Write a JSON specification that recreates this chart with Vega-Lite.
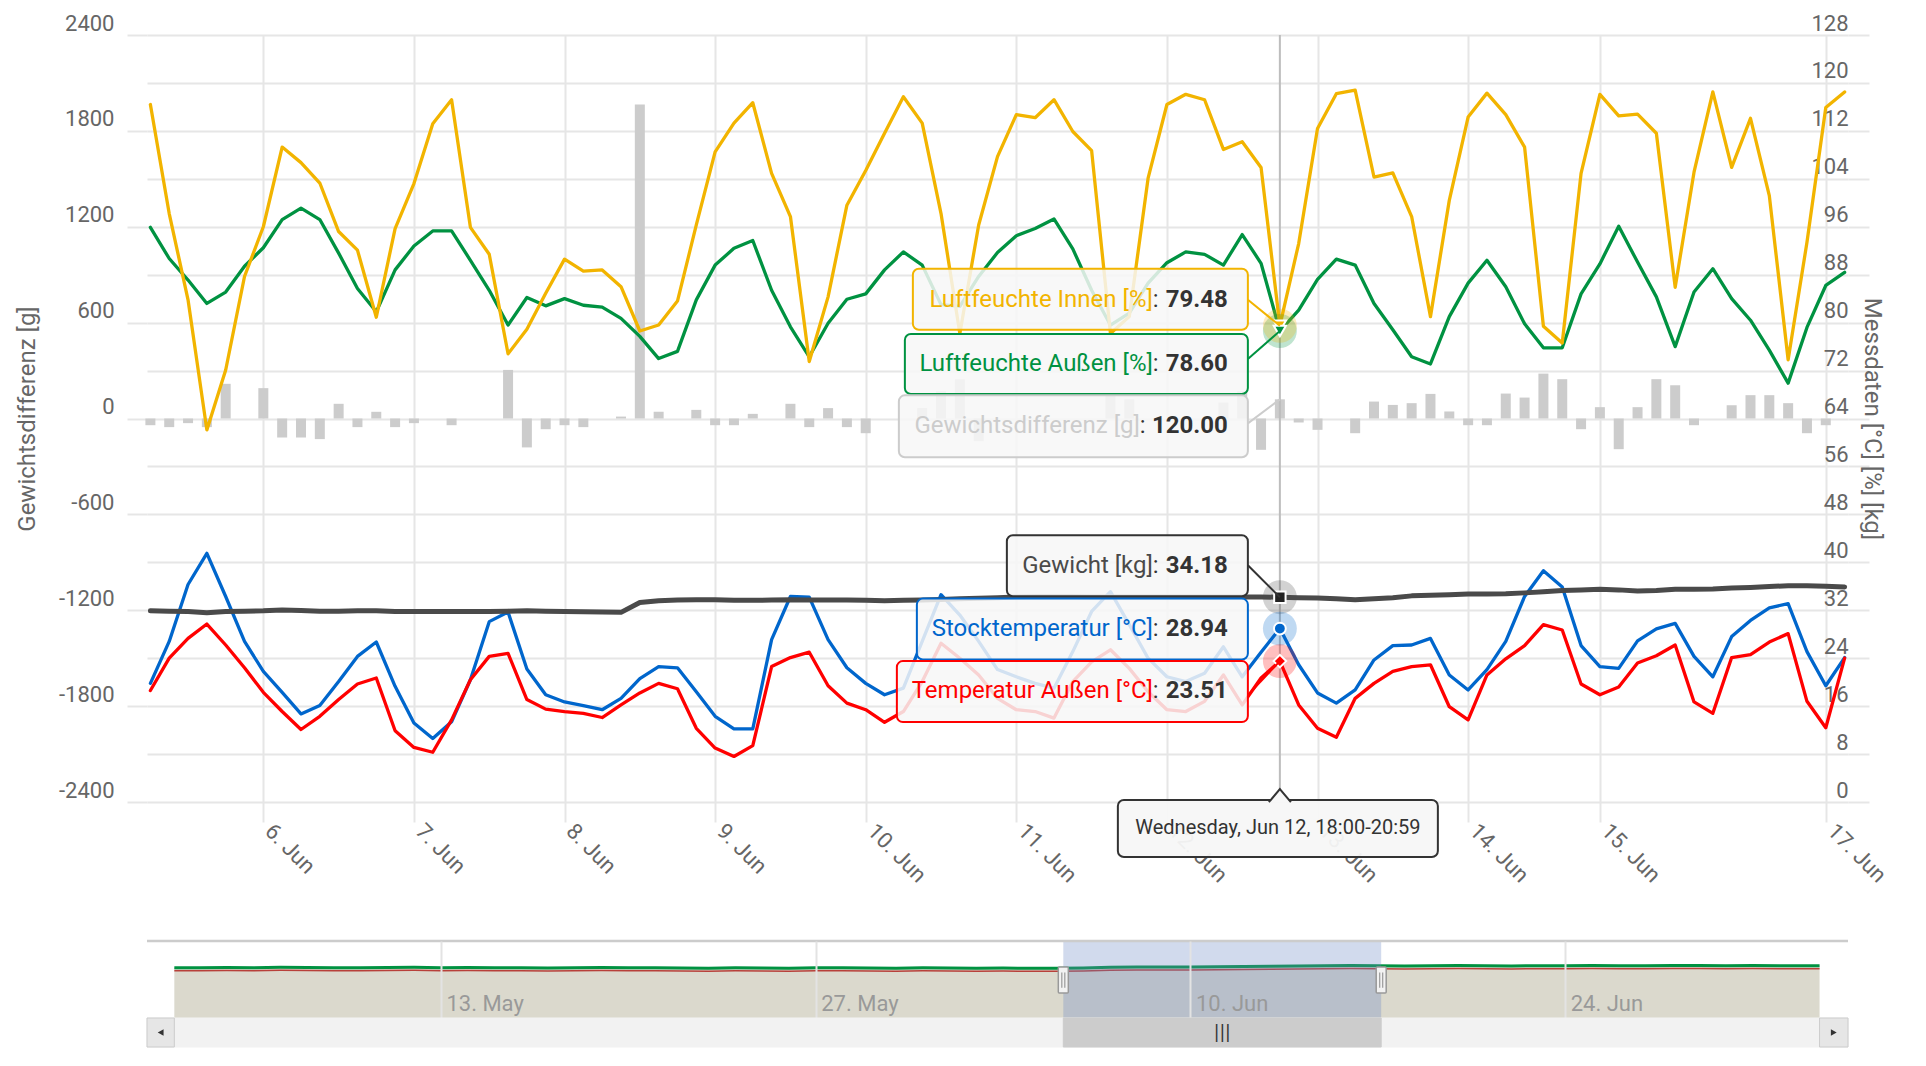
{
"$schema":"https://vega.github.io/schema/vega-lite/v6.json",
"padding":{"left":15,"top":12,"right":5,"bottom":5},
"background":"white",
"bounds":"flush",
"spacing":139,
"config":{"font":"Roboto","view":{"stroke":null},"axis":{"labelFont":"Roboto","titleFont":"Roboto"}},
"datasets":{
"main":[
{"t":"2019-06-05T06:00:00","li":116.4,"la":95.9,"gd":-42,"kg":31.9,"st":19.8,"ta":18.6},
{"t":"2019-06-05T09:00:00","li":98.2,"la":90.7,"gd":-54,"kg":31.85,"st":26.8,"ta":24.0},
{"t":"2019-06-05T12:00:00","li":83.8,"la":87.1,"gd":-29,"kg":31.8,"st":36.3,"ta":27.3},
{"t":"2019-06-05T15:00:00","li":62.1,"la":83.2,"gd":-54,"kg":31.6,"st":41.5,"ta":29.7},
{"t":"2019-06-05T18:00:00","li":72.1,"la":85.1,"gd":217,"kg":31.8,"st":34.3,"ta":26.2},
{"t":"2019-06-05T21:00:00","li":87.7,"la":89.4,"gd":0,"kg":31.85,"st":26.8,"ta":22.4},
{"t":"2019-06-06T00:00:00","li":96.0,"la":92.5,"gd":190,"kg":31.9,"st":21.8,"ta":18.3},
{"t":"2019-06-06T03:00:00","li":109.3,"la":97.2,"gd":-119,"kg":32.05,"st":18.3,"ta":15.1},
{"t":"2019-06-06T06:00:00","li":106.7,"la":99.1,"gd":-119,"kg":31.95,"st":14.7,"ta":12.1},
{"t":"2019-06-06T09:00:00","li":103.3,"la":97.2,"gd":-129,"kg":31.85,"st":16.1,"ta":14.3},
{"t":"2019-06-06T12:00:00","li":95.2,"la":91.6,"gd":92,"kg":31.85,"st":20.1,"ta":17.1},
{"t":"2019-06-06T15:00:00","li":92.1,"la":85.7,"gd":-54,"kg":31.9,"st":24.3,"ta":19.7},
{"t":"2019-06-06T18:00:00","li":80.9,"la":81.8,"gd":42,"kg":31.9,"st":26.7,"ta":20.7},
{"t":"2019-06-06T21:00:00","li":95.7,"la":88.8,"gd":-54,"kg":31.8,"st":19.3,"ta":11.9},
{"t":"2019-06-07T00:00:00","li":103.2,"la":92.8,"gd":-29,"kg":31.8,"st":13.2,"ta":9.1},
{"t":"2019-06-07T03:00:00","li":113.2,"la":95.3,"gd":0,"kg":31.8,"st":10.6,"ta":8.3},
{"t":"2019-06-07T06:00:00","li":117.2,"la":95.3,"gd":-42,"kg":31.8,"st":13.4,"ta":13.7},
{"t":"2019-06-07T09:00:00","li":95.9,"la":90.4,"gd":0,"kg":31.8,"st":20.4,"ta":20.4},
{"t":"2019-06-07T12:00:00","li":91.4,"la":85.4,"gd":0,"kg":31.8,"st":30.1,"ta":24.3},
{"t":"2019-06-07T15:00:00","li":74.8,"la":79.6,"gd":304,"kg":31.85,"st":31.7,"ta":24.8},
{"t":"2019-06-07T18:00:00","li":78.9,"la":84.2,"gd":-181,"kg":31.9,"st":22.2,"ta":17.1},
{"t":"2019-06-07T21:00:00","li":84.9,"la":82.8,"gd":-67,"kg":31.85,"st":17.9,"ta":15.5},
{"t":"2019-06-08T00:00:00","li":90.6,"la":84.0,"gd":-42,"kg":31.8,"st":16.7,"ta":15.1},
{"t":"2019-06-08T03:00:00","li":88.6,"la":82.9,"gd":-54,"kg":31.75,"st":16.1,"ta":14.8},
{"t":"2019-06-08T06:00:00","li":88.8,"la":82.6,"gd":0,"kg":31.7,"st":15.4,"ta":14.1},
{"t":"2019-06-08T09:00:00","li":86.0,"la":80.7,"gd":12,"kg":31.65,"st":17.3,"ta":16.2},
{"t":"2019-06-08T12:00:00","li":78.6,"la":77.7,"gd":1965,"kg":33.3,"st":20.6,"ta":18.2},
{"t":"2019-06-08T15:00:00","li":79.6,"la":74.0,"gd":42,"kg":33.6,"st":22.6,"ta":19.8},
{"t":"2019-06-08T18:00:00","li":83.6,"la":75.2,"gd":0,"kg":33.7,"st":22.4,"ta":18.9},
{"t":"2019-06-08T21:00:00","li":96.3,"la":83.8,"gd":54,"kg":33.75,"st":18.4,"ta":12.3},
{"t":"2019-06-09T00:00:00","li":108.5,"la":89.6,"gd":-42,"kg":33.75,"st":14.3,"ta":9.0},
{"t":"2019-06-09T03:00:00","li":113.3,"la":92.4,"gd":-42,"kg":33.65,"st":12.2,"ta":7.6},
{"t":"2019-06-09T06:00:00","li":116.7,"la":93.7,"gd":29,"kg":33.65,"st":12.2,"ta":9.4},
{"t":"2019-06-09T09:00:00","li":104.9,"la":85.4,"gd":0,"kg":33.7,"st":27.1,"ta":22.6},
{"t":"2019-06-09T12:00:00","li":97.7,"la":79.3,"gd":92,"kg":33.75,"st":34.3,"ta":24.1},
{"t":"2019-06-09T15:00:00","li":73.5,"la":74.3,"gd":-54,"kg":33.7,"st":34.2,"ta":25.0},
{"t":"2019-06-09T18:00:00","li":84.3,"la":79.9,"gd":65,"kg":33.7,"st":27.1,"ta":19.4},
{"t":"2019-06-09T21:00:00","li":99.6,"la":83.9,"gd":-54,"kg":33.7,"st":22.4,"ta":16.5},
{"t":"2019-06-10T00:00:00","li":105.4,"la":84.8,"gd":-92,"kg":33.65,"st":19.8,"ta":15.4},
{"t":"2019-06-10T03:00:00","li":111.6,"la":88.8,"gd":0,"kg":33.6,"st":17.9,"ta":13.3},
{"t":"2019-06-10T06:00:00","li":117.7,"la":91.8,"gd":0,"kg":33.65,"st":19.0,"ta":15.1},
{"t":"2019-06-10T09:00:00","li":113.3,"la":89.6,"gd":65,"kg":33.7,"st":26.8,"ta":20.1},
{"t":"2019-06-10T12:00:00","li":98.2,"la":83.0,"gd":170,"kg":33.8,"st":34.6,"ta":26.5},
{"t":"2019-06-10T15:00:00","li":78.2,"la":82.7,"gd":245,"kg":33.9,"st":31.2,"ta":24.0},
{"t":"2019-06-10T18:00:00","li":96.3,"la":87.7,"gd":-142,"kg":34.0,"st":26.8,"ta":21.2},
{"t":"2019-06-10T21:00:00","li":107.7,"la":91.7,"gd":0,"kg":34.1,"st":22.1,"ta":17.3},
{"t":"2019-06-11T00:00:00","li":114.7,"la":94.5,"gd":0,"kg":34.2,"st":20.9,"ta":15.4},
{"t":"2019-06-11T03:00:00","li":114.2,"la":95.7,"gd":0,"kg":34.25,"st":19.8,"ta":15.1},
{"t":"2019-06-11T06:00:00","li":117.2,"la":97.3,"gd":0,"kg":34.25,"st":19.0,"ta":14.0},
{"t":"2019-06-11T09:00:00","li":111.9,"la":92.3,"gd":0,"kg":34.25,"st":25.1,"ta":20.1},
{"t":"2019-06-11T12:00:00","li":108.7,"la":85.4,"gd":0,"kg":34.2,"st":31.8,"ta":23.4},
{"t":"2019-06-11T15:00:00","li":78.2,"la":79.6,"gd":150,"kg":34.2,"st":35.1,"ta":25.4},
{"t":"2019-06-11T18:00:00","li":81.0,"la":81.6,"gd":120,"kg":34.2,"st":29.6,"ta":22.3},
{"t":"2019-06-11T21:00:00","li":104.1,"la":86.6,"gd":0,"kg":34.2,"st":24.0,"ta":18.4},
{"t":"2019-06-12T00:00:00","li":116.4,"la":90.0,"gd":0,"kg":34.2,"st":20.9,"ta":15.4},
{"t":"2019-06-12T03:00:00","li":118.1,"la":91.8,"gd":0,"kg":34.2,"st":20.1,"ta":15.1},
{"t":"2019-06-12T06:00:00","li":117.2,"la":91.4,"gd":0,"kg":34.2,"st":21.5,"ta":16.8},
{"t":"2019-06-12T09:00:00","li":108.9,"la":89.6,"gd":100,"kg":34.2,"st":25.9,"ta":21.2},
{"t":"2019-06-12T12:00:00","li":110.2,"la":94.7,"gd":170,"kg":34.2,"st":20.9,"ta":16.2},
{"t":"2019-06-12T15:00:00","li":105.9,"la":89.9,"gd":-196,"kg":34.2,"st":25.0,"ta":20.7},
{"t":"2019-06-12T18:00:00","li":79.48,"la":78.60,"gd":120,"kg":34.18,"st":28.94,"ta":23.51},
{"t":"2019-06-12T21:00:00","li":93.2,"la":82.1,"gd":-25,"kg":34.1,"st":22.9,"ta":16.2},
{"t":"2019-06-13T00:00:00","li":112.4,"la":87.2,"gd":-71,"kg":34.05,"st":18.2,"ta":12.3},
{"t":"2019-06-13T03:00:00","li":118.2,"la":90.6,"gd":0,"kg":33.9,"st":16.5,"ta":10.8},
{"t":"2019-06-13T06:00:00","li":118.8,"la":89.6,"gd":-92,"kg":33.75,"st":18.7,"ta":17.3},
{"t":"2019-06-13T09:00:00","li":104.3,"la":83.2,"gd":106,"kg":33.9,"st":23.7,"ta":19.8},
{"t":"2019-06-13T12:00:00","li":105.0,"la":78.8,"gd":85,"kg":34.1,"st":26.1,"ta":21.8},
{"t":"2019-06-13T15:00:00","li":97.7,"la":74.3,"gd":96,"kg":34.4,"st":26.2,"ta":22.6},
{"t":"2019-06-13T18:00:00","li":81.0,"la":73.1,"gd":154,"kg":34.5,"st":27.3,"ta":22.9},
{"t":"2019-06-13T21:00:00","li":100.4,"la":81.0,"gd":44,"kg":34.6,"st":21.2,"ta":15.9},
{"t":"2019-06-14T00:00:00","li":114.3,"la":86.6,"gd":-42,"kg":34.7,"st":18.7,"ta":13.7},
{"t":"2019-06-14T03:00:00","li":118.3,"la":90.4,"gd":-42,"kg":34.7,"st":22.1,"ta":21.2},
{"t":"2019-06-14T06:00:00","li":114.7,"la":86.0,"gd":156,"kg":34.75,"st":26.8,"ta":23.9},
{"t":"2019-06-14T09:00:00","li":109.3,"la":79.8,"gd":131,"kg":34.9,"st":34.3,"ta":26.1},
{"t":"2019-06-14T12:00:00","li":79.4,"la":75.8,"gd":281,"kg":35.1,"st":38.6,"ta":29.6},
{"t":"2019-06-14T15:00:00","li":76.6,"la":75.8,"gd":246,"kg":35.3,"st":35.9,"ta":28.7},
{"t":"2019-06-14T18:00:00","li":104.9,"la":84.8,"gd":-67,"kg":35.4,"st":26.1,"ta":19.7},
{"t":"2019-06-15T00:00:00","li":118.1,"la":89.8,"gd":71,"kg":35.5,"st":22.6,"ta":17.9},
{"t":"2019-06-15T03:00:00","li":114.5,"la":96.1,"gd":-192,"kg":35.4,"st":22.3,"ta":19.2},
{"t":"2019-06-15T06:00:00","li":114.8,"la":90.1,"gd":71,"kg":35.2,"st":26.9,"ta":23.2},
{"t":"2019-06-15T09:00:00","li":111.6,"la":84.3,"gd":246,"kg":35.3,"st":28.9,"ta":24.4},
{"t":"2019-06-15T12:00:00","li":85.9,"la":76.0,"gd":208,"kg":35.5,"st":29.8,"ta":26.2},
{"t":"2019-06-15T18:00:00","li":105.1,"la":85.1,"gd":-42,"kg":35.5,"st":24.3,"ta":16.7},
{"t":"2019-06-16T03:00:00","li":118.5,"la":89.0,"gd":0,"kg":35.55,"st":20.9,"ta":14.8},
{"t":"2019-06-16T09:00:00","li":105.9,"la":84.0,"gd":83,"kg":35.7,"st":27.6,"ta":24.1},
{"t":"2019-06-16T12:00:00","li":114.1,"la":80.4,"gd":146,"kg":35.8,"st":30.3,"ta":24.6},
{"t":"2019-06-16T15:00:00","li":101.2,"la":75.4,"gd":146,"kg":35.95,"st":32.4,"ta":26.7},
{"t":"2019-06-16T18:00:00","li":73.8,"la":69.9,"gd":96,"kg":36.1,"st":33.1,"ta":28.1},
{"t":"2019-06-16T21:00:00","li":93.4,"la":79.2,"gd":-92,"kg":36.1,"st":25.1,"ta":16.8},
{"t":"2019-06-17T00:00:00","li":115.9,"la":86.2,"gd":-42,"kg":36.0,"st":19.4,"ta":12.4},
{"t":"2019-06-17T03:00:00","li":118.5,"la":88.4,"gd":0,"kg":35.9,"st":24.1,"ta":24.0}
],
"nav":[
{"d":"2019-05-03T01:00:00","kg":33.2},{"d":"2019-05-04T00:00:00","kg":33.1},{"d":"2019-05-05T00:00:00","kg":33.3},{"d":"2019-05-06T00:00:00","kg":33.2},{"d":"2019-05-07T00:00:00","kg":33.4},{"d":"2019-05-08T00:00:00","kg":33.3},{"d":"2019-05-09T00:00:00","kg":33.2},{"d":"2019-05-10T00:00:00","kg":33.1},{"d":"2019-05-11T00:00:00","kg":33.3},{"d":"2019-05-12T00:00:00","kg":33.4},{"d":"2019-05-13T00:00:00","kg":33.2},{"d":"2019-05-14T00:00:00","kg":33.3},{"d":"2019-05-15T00:00:00","kg":33.1},{"d":"2019-05-16T00:00:00","kg":33.2},{"d":"2019-05-17T00:00:00","kg":33.0},{"d":"2019-05-18T00:00:00","kg":33.2},{"d":"2019-05-19T00:00:00","kg":33.3},{"d":"2019-05-20T00:00:00","kg":33.1},{"d":"2019-05-21T00:00:00","kg":33.2},{"d":"2019-05-22T00:00:00","kg":33.0},{"d":"2019-05-23T00:00:00","kg":32.9},{"d":"2019-05-24T00:00:00","kg":33.1},{"d":"2019-05-25T00:00:00","kg":33.0},{"d":"2019-05-26T00:00:00","kg":32.9},{"d":"2019-05-27T00:00:00","kg":33.1},{"d":"2019-05-28T00:00:00","kg":33.2},{"d":"2019-05-29T00:00:00","kg":33.0},{"d":"2019-05-30T00:00:00","kg":32.9},{"d":"2019-05-31T00:00:00","kg":33.1},
{"d":"2019-06-01T00:00:00","kg":33.0},{"d":"2019-06-02T00:00:00","kg":32.9},{"d":"2019-06-03T00:00:00","kg":33.0},{"d":"2019-06-04T00:00:00","kg":32.8},{"d":"2019-06-05T00:00:00","kg":32.9},{"d":"2019-06-06T00:00:00","kg":33.0},{"d":"2019-06-07T00:00:00","kg":33.4},{"d":"2019-06-08T00:00:00","kg":33.6},{"d":"2019-06-09T00:00:00","kg":33.6},{"d":"2019-06-10T00:00:00","kg":33.7},{"d":"2019-06-11T00:00:00","kg":33.8},{"d":"2019-06-12T00:00:00","kg":34.0},{"d":"2019-06-13T00:00:00","kg":34.2},{"d":"2019-06-14T00:00:00","kg":34.3},{"d":"2019-06-15T00:00:00","kg":34.5},{"d":"2019-06-16T00:00:00","kg":34.6},{"d":"2019-06-17T00:00:00","kg":34.4},{"d":"2019-06-18T00:00:00","kg":34.3},{"d":"2019-06-19T00:00:00","kg":34.5},{"d":"2019-06-20T00:00:00","kg":34.6},{"d":"2019-06-21T00:00:00","kg":34.4},{"d":"2019-06-22T00:00:00","kg":34.3},{"d":"2019-06-23T00:00:00","kg":34.5},{"d":"2019-06-24T00:00:00","kg":34.4},{"d":"2019-06-25T00:00:00","kg":34.6},{"d":"2019-06-26T00:00:00","kg":34.5},{"d":"2019-06-27T00:00:00","kg":34.4},{"d":"2019-06-28T00:00:00","kg":34.6},{"d":"2019-06-29T00:00:00","kg":34.7},{"d":"2019-06-30T00:00:00","kg":34.5},
{"d":"2019-07-01T00:00:00","kg":34.6},{"d":"2019-07-02T00:00:00","kg":34.4},{"d":"2019-07-03T00:00:00","kg":34.5},{"d":"2019-07-03T12:00:00","kg":34.5}
]
},
"vconcat":[
{
"width":1701,"height":767,
"data":{"name":"main"},
"encoding":{"x":{"field":"t","type":"ordinal","scale":{"type":"point","padding":0.18},
 "axis":{"values":["2019-06-06T00:00:00","2019-06-07T00:00:00","2019-06-08T00:00:00","2019-06-09T00:00:00","2019-06-10T00:00:00","2019-06-11T00:00:00","2019-06-12T00:00:00","2019-06-13T00:00:00","2019-06-14T00:00:00","2019-06-15T00:00:00","2019-06-17T00:00:00"],
 "labelExpr":"timeFormat(toDate(datum.value), '%-d. %b')","labelAngle":45,"labelAlign":"left","labelBaseline":"top","labelFontSize":22,"labelColor":"#666666","labelPadding":-2,"labelOffset":12,"labelOverlap":false,"labelFlush":false,
 "grid":true,"gridColor":"#e6e6e6","gridWidth":2,"ticks":true,"tickSize":20,"tickWidth":2,"tickColor":"#e6e6e6","domain":false,"title":null}}},
"resolve":{"scale":{"y":"independent"}},
"layer":[
{"mark":{"type":"bar","width":10,"color":"#cccccc"},
 "encoding":{"y":{"field":"gd","type":"quantitative","scale":{"domain":[-2400,2400],"nice":false,"zero":false},
  "axis":{"orient":"left","values":[-2400,-1800,-1200,-600,0,600,1200,1800,2400],"labelExpr":"'' + datum.value","title":"Gewichtsdifferenz [g]","titleFontSize":24,"titleFontWeight":"normal","titleColor":"#666666","titlePadding":19,"grid":false,"domain":false,"ticks":true,"tickSize":20,"tickWidth":2,"tickColor":"#e6e6e6","labelPadding":13,"labelFontSize":22,"labelColor":"#666666","labelBaseline":"bottom","labelOverlap":false,"labelFlush":false}},
  "y2":{"datum":0}}},
{"transform":[{"filter":"datum.t == '2019-06-12T18:00:00'"}],"mark":{"type":"rule","color":"#bdbdbd","strokeWidth":2},"encoding":{}},
{"mark":{"type":"line","color":"#0066cc","strokeWidth":3.3,"strokeJoin":"round","strokeCap":"round"},
 "encoding":{"y":{"field":"st","type":"quantitative","scale":{"domain":[0,128],"nice":false,"zero":false},
  "axis":{"orient":"right","values":[0,8,16,24,32,40,48,56,64,72,80,88,96,104,112,120,128],"title":"Messdaten [°C] [%] [kg]","titleFontSize":24,"titleFontWeight":"normal","titleColor":"#666666","titlePadding":-11,"grid":true,"gridColor":"#e6e6e6","gridWidth":2,"domain":false,"ticks":true,"tickSize":21,"tickWidth":2,"tickColor":"#e6e6e6","labelPadding":-21,"labelAlign":"right","labelFontSize":22,"labelColor":"#666666","labelBaseline":"bottom","labelOverlap":false,"labelFlush":false}}}},
{"mark":{"type":"line","color":"#ff0000","strokeWidth":3.3,"strokeJoin":"round","strokeCap":"round"},
 "encoding":{"y":{"field":"ta","type":"quantitative","scale":{"domain":[0,128],"nice":false,"zero":false},"axis":null}}},
{"mark":{"type":"line","color":"#4a4a4a","strokeWidth":5,"strokeJoin":"round","strokeCap":"round"},
 "encoding":{"y":{"field":"kg","type":"quantitative","scale":{"domain":[0,128],"nice":false,"zero":false},"axis":null}}},
{"mark":{"type":"line","color":"#009241","strokeWidth":3.3,"strokeJoin":"round","strokeCap":"round"},
 "encoding":{"y":{"field":"la","type":"quantitative","scale":{"domain":[0,128],"nice":false,"zero":false},"axis":null}}},
{"mark":{"type":"line","color":"#f2b400","strokeWidth":3.3,"strokeJoin":"round","strokeCap":"round"},
 "encoding":{"y":{"field":"li","type":"quantitative","scale":{"domain":[0,128],"nice":false,"zero":false},"axis":null}}},
{"transform":[{"filter":"datum.t == '2019-06-12T18:00:00'"}],
 "resolve":{"scale":{"y":"independent"}},
 "layer":[
 {"mark":{"type":"point","filled":true,"shape":"circle","size":1150,"color":"#4a4a4a","opacity":0.25},"encoding":{"y":{"field":"kg","type":"quantitative","scale":{"domain":[0,128],"nice":false,"zero":false},"axis":null}}},
 {"mark":{"type":"point","filled":true,"shape":"circle","size":1150,"color":"#0066cc","opacity":0.25},"encoding":{"y":{"field":"st","type":"quantitative","scale":{"domain":[0,128],"nice":false,"zero":false},"axis":null}}},
 {"mark":{"type":"point","filled":true,"shape":"circle","size":1150,"color":"#ff0000","opacity":0.25},"encoding":{"y":{"field":"ta","type":"quantitative","scale":{"domain":[0,128],"nice":false,"zero":false},"axis":null}}},
 {"mark":{"type":"point","filled":true,"shape":"circle","size":1150,"color":"#009241","opacity":0.25},"encoding":{"y":{"field":"la","type":"quantitative","scale":{"domain":[0,128],"nice":false,"zero":false},"axis":null}}},
 {"mark":{"type":"point","filled":true,"shape":"circle","size":1150,"color":"#f2b400","opacity":0.25},"encoding":{"y":{"field":"li","type":"quantitative","scale":{"domain":[0,128],"nice":false,"zero":false},"axis":null}}},
 {"mark":{"type":"point","filled":true,"shape":"square","size":130,"color":"#222222","stroke":"#ffffff","strokeWidth":2,"opacity":1},"encoding":{"y":{"field":"kg","type":"quantitative","scale":{"domain":[0,128],"nice":false,"zero":false},"axis":null}}},
 {"mark":{"type":"point","filled":true,"shape":"circle","size":140,"color":"#0066cc","stroke":"#ffffff","strokeWidth":2,"opacity":1},"encoding":{"y":{"field":"st","type":"quantitative","scale":{"domain":[0,128],"nice":false,"zero":false},"axis":null}}},
 {"mark":{"type":"point","filled":true,"shape":"diamond","size":160,"color":"#ff0000","stroke":"#ffffff","strokeWidth":2,"opacity":1},"encoding":{"y":{"field":"ta","type":"quantitative","scale":{"domain":[0,128],"nice":false,"zero":false},"axis":null}}},
 {"mark":{"type":"point","filled":true,"shape":"triangle-down","size":150,"color":"#f2b400","stroke":"#ffffff","strokeWidth":2,"opacity":1},"encoding":{"y":{"field":"li","type":"quantitative","scale":{"domain":[0,128],"nice":false,"zero":false},"axis":null}}},
 {"mark":{"type":"point","filled":true,"shape":"triangle-down","size":150,"color":"#009241","stroke":"#ffffff","strokeWidth":2,"opacity":1},"encoding":{"y":{"field":"la","type":"quantitative","scale":{"domain":[0,128],"nice":false,"zero":false},"axis":null}}},

 {"mark":{"type":"rule","color":"#f2b400","strokeWidth":2,"xOffset":-32,"x2Offset":0,"yOffset":-26,"y2Offset":0},"encoding":{"x2":{"field":"t"},"y":{"field":"li","type":"quantitative","scale":{"domain":[0,128],"nice":false,"zero":false},"axis":null},"y2":{"field":"li"}}},
 {"mark":{"type":"rect","fill":"#f7f7f7","fillOpacity":0.85,"stroke":"#f2b400","strokeWidth":2,"cornerRadius":6,"xOffset":-367,"x2Offset":-32,"yOffset":-57,"y2Offset":4},"encoding":{"x2":{"field":"t"},"y":{"field":"li","type":"quantitative","scale":{"domain":[0,128],"nice":false,"zero":false},"axis":null},"y2":{"field":"li"}}},
 {"mark":{"type":"text","text":"Luftfeuchte Innen [%]","align":"right","baseline":"middle","dx":-127,"dy":-26,"fontSize":24,"color":"#f2b400"},"encoding":{"y":{"field":"li","type":"quantitative","scale":{"domain":[0,128],"nice":false,"zero":false},"axis":null}}},
 {"mark":{"type":"text","text":":","align":"left","baseline":"middle","dx":-127,"dy":-26,"fontSize":24,"color":"#333333"},"encoding":{"y":{"field":"li","type":"quantitative","scale":{"domain":[0,128],"nice":false,"zero":false},"axis":null}}},
 {"mark":{"type":"text","align":"right","baseline":"middle","dx":-52,"dy":-26,"fontSize":24,"fontWeight":"bold","color":"#333333"},"encoding":{"y":{"field":"li","type":"quantitative","scale":{"domain":[0,128],"nice":false,"zero":false},"axis":null},"text":{"field":"li","type":"quantitative","format":".2f"}}},

 {"mark":{"type":"rule","color":"#009241","strokeWidth":2,"xOffset":-32,"x2Offset":0,"yOffset":28,"y2Offset":0},"encoding":{"x2":{"field":"t"},"y":{"field":"la","type":"quantitative","scale":{"domain":[0,128],"nice":false,"zero":false},"axis":null},"y2":{"field":"la"}}},
 {"mark":{"type":"rect","fill":"#f7f7f7","fillOpacity":0.85,"stroke":"#009241","strokeWidth":2,"cornerRadius":6,"xOffset":-375,"x2Offset":-32,"yOffset":3,"y2Offset":63},"encoding":{"x2":{"field":"t"},"y":{"field":"la","type":"quantitative","scale":{"domain":[0,128],"nice":false,"zero":false},"axis":null},"y2":{"field":"la"}}},
 {"mark":{"type":"text","text":"Luftfeuchte Außen [%]","align":"right","baseline":"middle","dx":-127,"dy":33,"fontSize":24,"color":"#009241"},"encoding":{"y":{"field":"la","type":"quantitative","scale":{"domain":[0,128],"nice":false,"zero":false},"axis":null}}},
 {"mark":{"type":"text","text":":","align":"left","baseline":"middle","dx":-127,"dy":33,"fontSize":24,"color":"#333333"},"encoding":{"y":{"field":"la","type":"quantitative","scale":{"domain":[0,128],"nice":false,"zero":false},"axis":null}}},
 {"mark":{"type":"text","align":"right","baseline":"middle","dx":-52,"dy":33,"fontSize":24,"fontWeight":"bold","color":"#333333"},"encoding":{"y":{"field":"la","type":"quantitative","scale":{"domain":[0,128],"nice":false,"zero":false},"axis":null},"text":{"field":"la","type":"quantitative","format":".2f"}}},

 {"mark":{"type":"rule","color":"#cccccc","strokeWidth":2,"xOffset":-32,"x2Offset":0,"yOffset":24,"y2Offset":0},"encoding":{"x2":{"field":"t"},"y":{"field":"gd","type":"quantitative","scale":{"domain":[-2400,2400],"nice":false,"zero":false},"axis":null},"y2":{"field":"gd"}}},
 {"mark":{"type":"rect","fill":"#f7f7f7","fillOpacity":0.85,"stroke":"#cccccc","strokeWidth":2,"cornerRadius":6,"xOffset":-381,"x2Offset":-32,"yOffset":-4,"y2Offset":58},"encoding":{"x2":{"field":"t"},"y":{"field":"gd","type":"quantitative","scale":{"domain":[-2400,2400],"nice":false,"zero":false},"axis":null},"y2":{"field":"gd"}}},
 {"mark":{"type":"text","text":"Gewichtsdifferenz [g]","align":"right","baseline":"middle","dx":-140,"dy":27,"fontSize":24,"color":"#cccccc"},"encoding":{"y":{"field":"gd","type":"quantitative","scale":{"domain":[-2400,2400],"nice":false,"zero":false},"axis":null}}},
 {"mark":{"type":"text","text":":","align":"left","baseline":"middle","dx":-140,"dy":27,"fontSize":24,"color":"#333333"},"encoding":{"y":{"field":"gd","type":"quantitative","scale":{"domain":[-2400,2400],"nice":false,"zero":false},"axis":null}}},
 {"mark":{"type":"text","align":"right","baseline":"middle","dx":-52,"dy":27,"fontSize":24,"fontWeight":"bold","color":"#333333"},"encoding":{"y":{"field":"gd","type":"quantitative","scale":{"domain":[-2400,2400],"nice":false,"zero":false},"axis":null},"text":{"field":"gd","type":"quantitative","format":".2f"}}},

 {"mark":{"type":"rule","color":"#333333","strokeWidth":2,"xOffset":-32,"x2Offset":0,"yOffset":-32,"y2Offset":0},"encoding":{"x2":{"field":"t"},"y":{"field":"kg","type":"quantitative","scale":{"domain":[0,128],"nice":false,"zero":false},"axis":null},"y2":{"field":"kg"}}},
 {"mark":{"type":"rect","fill":"#f7f7f7","fillOpacity":0.85,"stroke":"#333333","strokeWidth":2,"cornerRadius":6,"xOffset":-273,"x2Offset":-32,"yOffset":-62,"y2Offset":-1},"encoding":{"x2":{"field":"t"},"y":{"field":"kg","type":"quantitative","scale":{"domain":[0,128],"nice":false,"zero":false},"axis":null},"y2":{"field":"kg"}}},
 {"mark":{"type":"text","text":"Gewicht [kg]","align":"right","baseline":"middle","dx":-127,"dy":-31,"fontSize":24,"color":"#4a4a4a"},"encoding":{"y":{"field":"kg","type":"quantitative","scale":{"domain":[0,128],"nice":false,"zero":false},"axis":null}}},
 {"mark":{"type":"text","text":":","align":"left","baseline":"middle","dx":-127,"dy":-31,"fontSize":24,"color":"#333333"},"encoding":{"y":{"field":"kg","type":"quantitative","scale":{"domain":[0,128],"nice":false,"zero":false},"axis":null}}},
 {"mark":{"type":"text","align":"right","baseline":"middle","dx":-52,"dy":-31,"fontSize":24,"fontWeight":"bold","color":"#333333"},"encoding":{"y":{"field":"kg","type":"quantitative","scale":{"domain":[0,128],"nice":false,"zero":false},"axis":null},"text":{"field":"kg","type":"quantitative","format":".2f"}}},

 {"mark":{"type":"rect","fill":"#f7f7f7","fillOpacity":0.85,"stroke":"#0066cc","strokeWidth":2,"cornerRadius":6,"xOffset":-363,"x2Offset":-32,"yOffset":-30,"y2Offset":31},"encoding":{"x2":{"field":"t"},"y":{"field":"st","type":"quantitative","scale":{"domain":[0,128],"nice":false,"zero":false},"axis":null},"y2":{"field":"st"}}},
 {"mark":{"type":"text","text":"Stocktemperatur [°C]","align":"right","baseline":"middle","dx":-127,"dy":0,"fontSize":24,"color":"#0066cc"},"encoding":{"y":{"field":"st","type":"quantitative","scale":{"domain":[0,128],"nice":false,"zero":false},"axis":null}}},
 {"mark":{"type":"text","text":":","align":"left","baseline":"middle","dx":-127,"dy":0,"fontSize":24,"color":"#333333"},"encoding":{"y":{"field":"st","type":"quantitative","scale":{"domain":[0,128],"nice":false,"zero":false},"axis":null}}},
 {"mark":{"type":"text","align":"right","baseline":"middle","dx":-52,"dy":0,"fontSize":24,"fontWeight":"bold","color":"#333333"},"encoding":{"y":{"field":"st","type":"quantitative","scale":{"domain":[0,128],"nice":false,"zero":false},"axis":null},"text":{"field":"st","type":"quantitative","format":".2f"}}},

 {"mark":{"type":"rule","color":"#ff0000","strokeWidth":2,"xOffset":-32,"x2Offset":0,"yOffset":34,"y2Offset":0},"encoding":{"x2":{"field":"t"},"y":{"field":"ta","type":"quantitative","scale":{"domain":[0,128],"nice":false,"zero":false},"axis":null},"y2":{"field":"ta"}}},
 {"mark":{"type":"rect","fill":"#f7f7f7","fillOpacity":0.85,"stroke":"#ff0000","strokeWidth":2,"cornerRadius":6,"xOffset":-383,"x2Offset":-32,"yOffset":0,"y2Offset":61},"encoding":{"x2":{"field":"t"},"y":{"field":"ta","type":"quantitative","scale":{"domain":[0,128],"nice":false,"zero":false},"axis":null},"y2":{"field":"ta"}}},
 {"mark":{"type":"text","text":"Temperatur Außen [°C]","align":"right","baseline":"middle","dx":-127,"dy":30,"fontSize":24,"color":"#ff0000"},"encoding":{"y":{"field":"ta","type":"quantitative","scale":{"domain":[0,128],"nice":false,"zero":false},"axis":null}}},
 {"mark":{"type":"text","text":":","align":"left","baseline":"middle","dx":-127,"dy":30,"fontSize":24,"color":"#333333"},"encoding":{"y":{"field":"ta","type":"quantitative","scale":{"domain":[0,128],"nice":false,"zero":false},"axis":null}}},
 {"mark":{"type":"text","align":"right","baseline":"middle","dx":-52,"dy":30,"fontSize":24,"fontWeight":"bold","color":"#333333"},"encoding":{"y":{"field":"ta","type":"quantitative","scale":{"domain":[0,128],"nice":false,"zero":false},"axis":null},"text":{"field":"ta","type":"quantitative","format":".2f"}}},

 {"mark":{"type":"rect","fill":"#f7f7f7","fillOpacity":0.95,"stroke":"#333333","strokeWidth":2,"cornerRadius":6,"xOffset":-162,"x2Offset":158,"yOffset":-2,"y2Offset":55},"encoding":{"x2":{"field":"t"},"y":{"datum":0,"type":"quantitative","scale":{"domain":[0,128],"nice":false,"zero":false},"axis":null},"y2":{"datum":0}}},
 {"mark":{"type":"point","shape":"M-1,0.2L0,-1L1,0.2","size":484,"filled":true,"fill":"#f7f7f7","stroke":"#333333","strokeWidth":2,"opacity":1,"yOffset":-2},"encoding":{"y":{"datum":0,"type":"quantitative","scale":{"domain":[0,128],"nice":false,"zero":false},"axis":null}}},
 {"mark":{"type":"text","text":"Wednesday, Jun 12, 18:00-20:59","align":"center","baseline":"middle","dx":-2,"dy":26,"fontSize":20,"color":"#333333"},"encoding":{"y":{"datum":0,"type":"quantitative","scale":{"domain":[0,128],"nice":false,"zero":false},"axis":null}}}
 ]}
]
},
{
"vconcat":[
{
"width":1701,"height":77,
"data":{"values":[{}]},
"layer":[
{"data":{"name":"nav"},"mark":{"type":"area","color":"#dbd9cd","opacity":1},
 "encoding":{"x":{"field":"d","type":"temporal","scale":{"domain":[{"year":2019,"month":5,"date":2,"hours":0,"minutes":30},{"year":2019,"month":7,"date":4,"hours":13,"minutes":30}]},
  "axis":{"values":[{"year":2019,"month":5,"date":13},{"year":2019,"month":5,"date":27},{"year":2019,"month":6,"date":10},{"year":2019,"month":6,"date":24}],"format":"%-d. %b","labelAlign":"left","labelBaseline":"middle","labelPadding":-15,"labelOffset":5,"labelFontSize":22,"labelColor":"#999999","grid":true,"gridColor":"#e3e3e3","gridWidth":2,"ticks":false,"domain":false,"title":null,"labelFlush":false,"labelOverlap":false,"zindex":1}},
  "y":{"field":"kg","type":"quantitative","scale":{"domain":[0,50.8],"nice":false,"zero":false},"axis":null},
  "y2":{"datum":0}}},
{"data":{"name":"nav"},"mark":{"type":"line","color":"#b8403a","strokeWidth":1.5,"yOffset":3},
 "encoding":{"x":{"field":"d","type":"temporal"},"y":{"field":"kg","type":"quantitative"}}},
{"data":{"name":"nav"},"mark":{"type":"line","color":"#009241","strokeWidth":3},
 "encoding":{"x":{"field":"d","type":"temporal"},"y":{"field":"kg","type":"quantitative"}}},
{"mark":{"type":"rect","fill":"#6685c2","fillOpacity":0.3},
 "encoding":{"x":{"datum":{"year":2019,"month":6,"date":5,"hours":6},"type":"temporal"},"x2":{"datum":{"year":2019,"month":6,"date":17,"hours":3}},"y":{"datum":50.8,"type":"quantitative"},"y2":{"datum":0}}},
{"mark":{"type":"rule","color":"#cccccc","strokeWidth":2.5},
 "encoding":{"x":{"datum":{"year":2019,"month":5,"date":2,"hours":0,"minutes":30},"type":"temporal"},"x2":{"datum":{"year":2019,"month":7,"date":4,"hours":13,"minutes":30}},"y":{"datum":50.8,"type":"quantitative"}}},
{"mark":{"type":"rect","fill":"#f2f2f2","stroke":"#999999","strokeWidth":1.5,"xOffset":-5,"x2Offset":5,"cornerRadius":1},
 "encoding":{"x":{"datum":{"year":2019,"month":6,"date":5,"hours":6},"type":"temporal"},"x2":{"datum":{"year":2019,"month":6,"date":5,"hours":6}},"y":{"datum":33.7,"type":"quantitative"},"y2":{"datum":16.5}}},
{"mark":{"type":"rect","fill":"#f2f2f2","stroke":"#999999","strokeWidth":1.5,"xOffset":-5,"x2Offset":5,"cornerRadius":1},
 "encoding":{"x":{"datum":{"year":2019,"month":6,"date":17,"hours":3},"type":"temporal"},"x2":{"datum":{"year":2019,"month":6,"date":17,"hours":3}},"y":{"datum":33.7,"type":"quantitative"},"y2":{"datum":16.5}}},
{"mark":{"type":"rule","color":"#999999","strokeWidth":1.2,"xOffset":-1.5,"x2Offset":-1.5},
 "encoding":{"x":{"datum":{"year":2019,"month":6,"date":5,"hours":6},"type":"temporal"},"y":{"datum":30,"type":"quantitative"},"y2":{"datum":20}}},
{"mark":{"type":"rule","color":"#999999","strokeWidth":1.2,"xOffset":1.5,"x2Offset":1.5},
 "encoding":{"x":{"datum":{"year":2019,"month":6,"date":5,"hours":6},"type":"temporal"},"y":{"datum":30,"type":"quantitative"},"y2":{"datum":20}}},
{"mark":{"type":"rule","color":"#999999","strokeWidth":1.2,"xOffset":-1.5,"x2Offset":-1.5},
 "encoding":{"x":{"datum":{"year":2019,"month":6,"date":17,"hours":3},"type":"temporal"},"y":{"datum":30,"type":"quantitative"},"y2":{"datum":20}}},
{"mark":{"type":"rule","color":"#999999","strokeWidth":1.2,"xOffset":1.5,"x2Offset":1.5},
 "encoding":{"x":{"datum":{"year":2019,"month":6,"date":17,"hours":3},"type":"temporal"},"y":{"datum":30,"type":"quantitative"},"y2":{"datum":20}}}
]
},
{
"width":1701,"height":29,
"data":{"values":[{}]},
"layer":[
{"mark":{"type":"rect","fill":"#f2f2f2","stroke":"#f2f2f2"},
 "encoding":{"x":{"datum":{"year":2019,"month":5,"date":2,"hours":0,"minutes":30},"type":"temporal","scale":{"domain":[{"year":2019,"month":5,"date":2,"hours":0,"minutes":30},{"year":2019,"month":7,"date":4,"hours":13,"minutes":30}]},"axis":null},"x2":{"datum":{"year":2019,"month":7,"date":4,"hours":13,"minutes":30}},"y":{"datum":1,"type":"quantitative","scale":{"domain":[0,1],"nice":false,"zero":false},"axis":null},"y2":{"datum":0}}},
{"mark":{"type":"rect","fill":"#e6e6e6","stroke":"#cccccc","strokeWidth":1},
 "encoding":{"x":{"datum":{"year":2019,"month":5,"date":2,"hours":0,"minutes":30},"type":"temporal"},"x2":{"datum":{"year":2019,"month":5,"date":3,"hours":1}},"y":{"datum":1,"type":"quantitative"},"y2":{"datum":0}}},
{"mark":{"type":"rect","fill":"#e6e6e6","stroke":"#cccccc","strokeWidth":1},
 "encoding":{"x":{"datum":{"year":2019,"month":7,"date":3,"hours":12},"type":"temporal"},"x2":{"datum":{"year":2019,"month":7,"date":4,"hours":13,"minutes":30}},"y":{"datum":1,"type":"quantitative"},"y2":{"datum":0}}},
{"mark":{"type":"rect","fill":"#cccccc","stroke":"#cccccc"},
 "encoding":{"x":{"datum":{"year":2019,"month":6,"date":5,"hours":6},"type":"temporal"},"x2":{"datum":{"year":2019,"month":6,"date":17,"hours":3}},"y":{"datum":1,"type":"quantitative"},"y2":{"datum":0}}},
{"mark":{"type":"point","shape":"triangle-left","filled":true,"size":45,"color":"#333333","opacity":1},
 "encoding":{"x":{"datum":{"year":2019,"month":5,"date":2,"hours":12,"minutes":45},"type":"temporal"},"y":{"datum":0.5,"type":"quantitative"}}},
{"mark":{"type":"point","shape":"triangle-right","filled":true,"size":45,"color":"#333333","opacity":1},
 "encoding":{"x":{"datum":{"year":2019,"month":7,"date":4,"hours":0,"minutes":45},"type":"temporal"},"y":{"datum":0.5,"type":"quantitative"}}},
{"mark":{"type":"text","text":"|||","align":"center","baseline":"middle","fontSize":17,"font":"DejaVu Sans","color":"#333333"},
 "encoding":{"x":{"datum":{"year":2019,"month":6,"date":11,"hours":4,"minutes":30},"type":"temporal"},"y":{"datum":0.5,"type":"quantitative"}}}
]
}
],
"spacing":0,
"bounds":"flush"
}
]
}
